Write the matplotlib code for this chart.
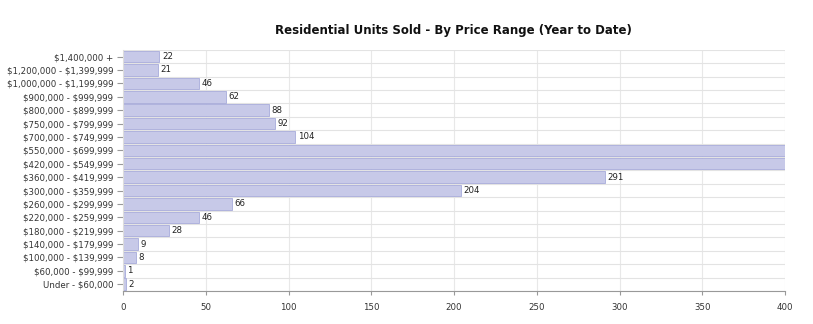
import matplotlib.pyplot as plt
import numpy as np

# price ranges, top to bottom as in the chart
ranges = ["$1,400,000 +", "$1,200,000 - $1,399,999", "$1,000,000 - $1,199,999",
          "$900,000 - $999,999", "$800,000 - $899,999", "$750,000 - $799,999",
          "$700,000 - $749,999", "$550,000 - $699,999", "$420,000 - $549,999",
          "$360,000 - $419,999", "$300,000 - $359,999", "$260,000 - $299,999",
          "$220,000 - $259,999", "$180,000 - $219,999", "$140,000 - $179,999",
          "$100,000 - $139,999", "$60,000 - $99,999", "Under - $60,000"]
# the two bars past 400 are cut off in the original, values guessed
units = [22, 21, 46, 62, 88, 92, 104, 430, 445, 291, 204, 66, 46, 28, 9, 8, 1, 2]
xticks = [0, 50, 100, 150, 200, 250, 300, 350, 400]

fig = plt.figure(figsize=(8.13, 3.24), dpi=100)
ax = fig.add_axes([0.1513, 0.102, 0.8143, 0.744])

y = np.arange(len(ranges))
ax.barh(y, units, height=0.86, color="#c7c9e8", edgecolor="#a7abda", linewidth=0.6, zorder=2)

for yi, v in zip(y, units):
    if v <= 400:
        ax.text(v + 1.5, yi, str(v), va="center", ha="left", fontsize=6.2, color="#222222", zorder=3)

ax.set_xlim(0, 400)
ax.set_ylim(len(ranges) - 0.5, -0.5)
ax.set_yticks(y)
# escape $ so it is not read as mathtext
ax.set_yticklabels([r.replace("$", r"\$") for r in ranges], fontsize=6.2, color="#333333")
ax.set_xticks(xticks)
ax.set_xticklabels([str(t) for t in xticks], fontsize=6.2, color="#333333")

# grid: vertical at ticks, horizontal between rows
for t in xticks:
    ax.axvline(t, color="#e8e8e8", linewidth=0.8, zorder=1)
for b in np.arange(-0.5, len(ranges), 1):
    ax.axhline(b, color="#e3e3e3", linewidth=0.8, zorder=1)

for s in ["top", "right"]:
    ax.spines[s].set_visible(False)
ax.spines["bottom"].set_color("#999999")
ax.spines["left"].set_color("#dddddd")
ax.tick_params(axis="y", length=4, color="#999999", pad=3)
ax.tick_params(axis="x", length=3, color="#999999", pad=6)

fig.text(0.558, 0.905, "Residential Units Sold - By Price Range (Year to Date)",
         ha="center", va="center", fontsize=8.5, fontweight="bold", color="#111111")

fig.savefig("out.png", dpi=100)
